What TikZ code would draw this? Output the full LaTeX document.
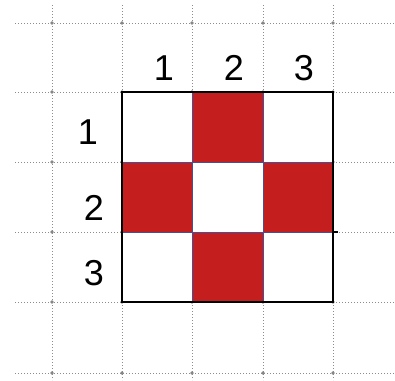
\documentclass[tikz,border=0pt]{standalone}
\usepackage{fontspec}
\setmainfont{Liberation Sans}
\begin{document}
\begin{tikzpicture}[x=1pt,y=-1pt,
  gridline/.style={draw=gray!90,dotted,line width=1pt},
  gridpt/.style={fill=gray!95},
  redcell/.style={fill={rgb,255:red,196;green,30;blue,30},draw={rgb,255:red,70;green,80;blue,150},line width=0.6pt},
  whitecell/.style={fill=white},
  lbl/.style={font=\fontsize{36}{36}\selectfont,inner sep=0pt,anchor=center}]
\useasboundingbox (0,0) rectangle (395,380);
\fill[white] (0,0) rectangle (395,380);
% dotted grid
\foreach \x in {52,122,192,263,333} \draw[gridline] (\x,5) -- (\x,380);
\foreach \y in {23,92,162,232,302,373} \draw[gridline] (15,\y) -- (395,\y);
\foreach \x in {52,122,192,263,333} \foreach \y in {23,92,162,232,302,373} \fill[gridpt] (\x,\y) circle (1.8);
% cells
\fill[whitecell] (122,92) rectangle (333,302);
\draw[redcell] (192,92) rectangle (263,162);
\draw[redcell] (122,162) rectangle (192,232);
\draw[redcell] (263,162) rectangle (333,232);
\draw[redcell] (192,232) rectangle (263,302);
\draw[black,line width=1.5pt] (122,92) rectangle (333,302);
\draw[black,line width=1.2pt] (333,232) -- (338,232);
% labels
\node[lbl] (c1) at (164,68) {1};
\node[lbl] (c2) at (234,68) {2};
\node[lbl] (c3) at (304,68) {3};
\node[lbl] (r1) at (88,132) {1};
\node[lbl] (r2) at (94,208) {2};
\node[lbl] (r3) at (94,273) {3};
\end{tikzpicture}
\end{document}
